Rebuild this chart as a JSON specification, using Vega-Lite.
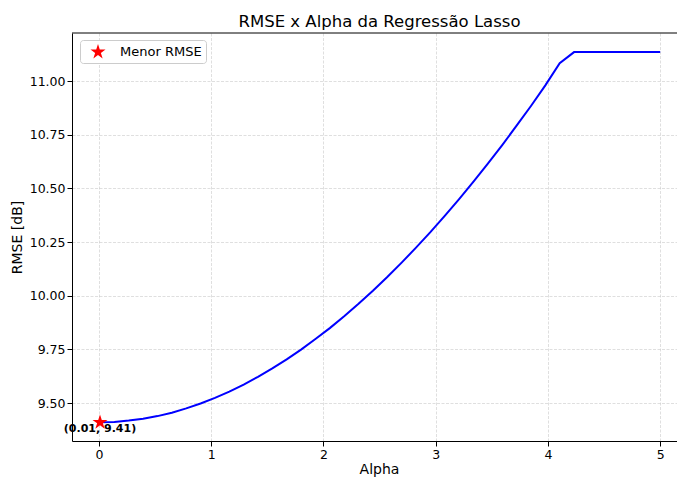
{
  "$schema": "https://vega.github.io/schema/vega-lite/v6.json",
  "width": 605,
  "height": 408,
  "autosize": {"type": "none"},
  "padding": {"left": 72, "top": 33, "right": 0, "bottom": 36},
  "background": "white",
  "config": {
    "view": {"stroke": null},
    "font": "DejaVu Sans",
    "axis": {
      "domainColor": "black",
      "domainWidth": 1,
      "tickColor": "black",
      "tickWidth": 1,
      "tickSize": 5,
      "labelColor": "black",
      "labelFont": "DejaVu Sans",
      "labelFontSize": 12.5,
      "labelPadding": 2,
      "titleFont": "DejaVu Sans",
      "titleFontSize": 14,
      "titleFontWeight": "normal",
      "titleColor": "black",
      "gridColor": "#b0b0b0",
      "gridOpacity": 0.5,
      "gridDash": [3, 1.5],
      "gridWidth": 0.8
    }
  },
  "title": {
    "text": "RMSE x Alpha da Regressão Lasso",
    "font": "DejaVu Sans",
    "fontSize": 16.5,
    "fontWeight": "normal",
    "color": "black",
    "anchor": "middle",
    "offset": 2,
    "dx": 5
  },
  "datasets": {
    "curva": [
      {"alpha": 0.010, "rmse": 9.410},
      {"alpha": 0.138, "rmse": 9.412},
      {"alpha": 0.266, "rmse": 9.418},
      {"alpha": 0.394, "rmse": 9.427},
      {"alpha": 0.522, "rmse": 9.439},
      {"alpha": 0.650, "rmse": 9.455},
      {"alpha": 0.778, "rmse": 9.475},
      {"alpha": 0.906, "rmse": 9.498},
      {"alpha": 1.034, "rmse": 9.524},
      {"alpha": 1.162, "rmse": 9.553},
      {"alpha": 1.290, "rmse": 9.586},
      {"alpha": 1.417, "rmse": 9.622},
      {"alpha": 1.545, "rmse": 9.661},
      {"alpha": 1.673, "rmse": 9.703},
      {"alpha": 1.801, "rmse": 9.749},
      {"alpha": 1.929, "rmse": 9.798},
      {"alpha": 2.057, "rmse": 9.849},
      {"alpha": 2.185, "rmse": 9.904},
      {"alpha": 2.313, "rmse": 9.962},
      {"alpha": 2.441, "rmse": 10.023},
      {"alpha": 2.569, "rmse": 10.087},
      {"alpha": 2.697, "rmse": 10.154},
      {"alpha": 2.825, "rmse": 10.224},
      {"alpha": 2.953, "rmse": 10.296},
      {"alpha": 3.081, "rmse": 10.372},
      {"alpha": 3.209, "rmse": 10.450},
      {"alpha": 3.337, "rmse": 10.531},
      {"alpha": 3.465, "rmse": 10.615},
      {"alpha": 3.593, "rmse": 10.702},
      {"alpha": 3.721, "rmse": 10.792},
      {"alpha": 3.849, "rmse": 10.884},
      {"alpha": 3.977, "rmse": 10.980},
      {"alpha": 4.105, "rmse": 11.083},
      {"alpha": 4.233, "rmse": 11.135},
      {"alpha": 4.361, "rmse": 11.135},
      {"alpha": 4.489, "rmse": 11.135},
      {"alpha": 4.617, "rmse": 11.135},
      {"alpha": 4.745, "rmse": 11.135},
      {"alpha": 4.872, "rmse": 11.135},
      {"alpha": 5.000, "rmse": 11.135}
    ],
    "minimo": [
      {"alpha": 0.01, "rmse": 9.41, "serie": "Menor RMSE", "rotulo": "(0.01, 9.41)"}
    ]
  },
  "layer": [
    {
      "data": {"name": "curva"},
      "mark": {"type": "line", "color": "#0000ff", "strokeWidth": 2},
      "encoding": {
        "x": {
          "field": "alpha",
          "type": "quantitative",
          "scale": {"domain": [-0.2395, 5.15], "nice": false, "zero": false},
          "axis": {"values": [0, 1, 2, 3, 4, 5], "format": "d", "grid": true, "title": "Alpha", "titleX": 307, "titlePadding": 2}
        },
        "y": {
          "field": "rmse",
          "type": "quantitative",
          "scale": {"domain": [9.323, 11.224], "nice": false, "zero": false},
          "axis": {"values": [9.5, 9.75, 10.0, 10.25, 10.5, 10.75, 11.0], "format": ".2f", "grid": true, "title": "RMSE [dB]", "titlePadding": 5}
        }
      }
    },
    {
      "data": {"values": [{}]},
      "mark": {"type": "rule", "color": "black", "strokeWidth": 1},
      "encoding": {
        "y": {"datum": 11.224}
      }
    },
    {
      "data": {"name": "minimo"},
      "mark": {"type": "text", "fontWeight": "bold", "fontSize": 11, "font": "DejaVu Sans", "align": "center", "baseline": "middle", "dy": 7, "color": "black"},
      "encoding": {
        "x": {"field": "alpha", "type": "quantitative"},
        "y": {"field": "rmse", "type": "quantitative"},
        "text": {"field": "rotulo"}
      }
    },
    {
      "data": {"name": "minimo"},
      "mark": {
        "type": "point",
        "shape": "M0,-1L0.2245,-0.309L0.9511,-0.309L0.3633,0.118L0.5878,0.809L0,0.382L-0.5878,0.809L-0.3633,0.118L-0.9511,-0.309L-0.2245,-0.309Z",
        "filled": true,
        "size": 250,
        "opacity": 1
      },
      "encoding": {
        "x": {"field": "alpha", "type": "quantitative"},
        "y": {"field": "rmse", "type": "quantitative"},
        "color": {
          "field": "serie",
          "type": "nominal",
          "scale": {"range": ["#ff0000"]},
          "legend": {
            "title": null,
            "orient": "none",
            "legendX": 8,
            "legendY": 7,
            "padding": 4,
            "strokeColor": "#cccccc",
            "cornerRadius": 3,
            "fillColor": "white",
            "symbolType": "M0,-1L0.2245,-0.309L0.9511,-0.309L0.3633,0.118L0.5878,0.809L0,0.382L-0.5878,0.809L-0.3633,0.118L-0.9511,-0.309L-0.2245,-0.309Z",
            "symbolSize": 250,
            "symbolOffset": 6,
            "symbolStrokeWidth": 0,
            "labelOffset": 14,
            "labelFontSize": 13,
            "labelColor": "black",
            "labelFont": "DejaVu Sans"
          }
        }
      }
    }
  ]
}
